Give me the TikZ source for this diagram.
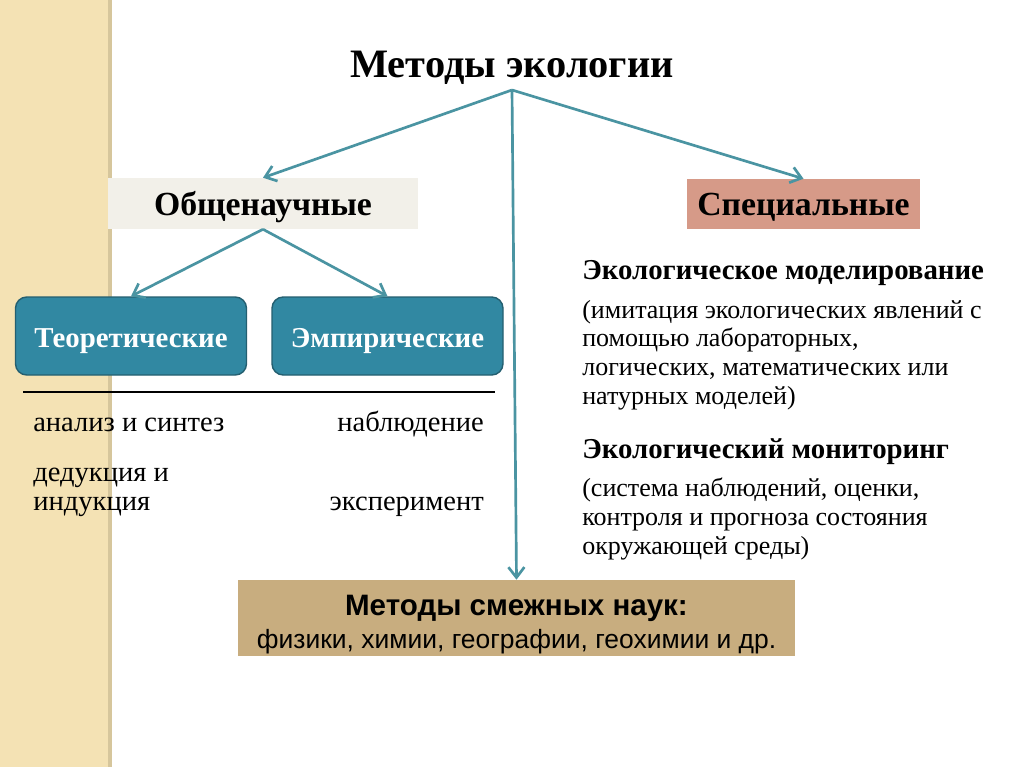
\documentclass[tikz,border=0pt]{standalone}
\usepackage{fontspec}
\setmainfont{Liberation Serif}
\setsansfont{Liberation Sans}
\usepackage{xcolor}
\usetikzlibrary{arrows.meta}
\definecolor{wheat}{HTML}{F4E2B4}
\definecolor{wheatedge}{HTML}{D6C69C}
\definecolor{sea}{HTML}{3188A2}
\definecolor{seaedge}{HTML}{245F70}
\definecolor{teal}{HTML}{4A94A2}
\definecolor{salmon}{HTML}{D69A88}
\definecolor{paper}{HTML}{F2F0E9}
\definecolor{tan}{HTML}{C8AD7F}
\newcommand{\fs}[2]{\fontsize{#1}{#2}\selectfont}
\newcommand{\px}{0.025cm}

\begin{document}
\begin{tikzpicture}[x=0.025cm,y=-0.025cm,
  arr/.style={-{Straight Barb[length=2.6mm,width=4mm]},line width=1.9pt,teal},
  txt/.style={inner sep=0pt,align=left,font=\fs{20.3}{20}},
  para/.style={inner sep=0pt,align=left,font=\fs{18.5}{20.3}},
  head/.style={inner sep=0pt,font=\fs{20.5}{21}\bfseries},
  flatbox/.style={inner sep=0pt,text depth=0pt,font=\fs{24}{26}\bfseries},
  roundbox/.style={fill=sea,draw=seaedge,line width=1pt,rounded corners=8pt,inner sep=0pt,text depth=0pt,
    minimum width=231*\px,minimum height=78*\px,text=white,font=\fs{20.5}{22}\bfseries}]
\useasboundingbox (0,0) rectangle (1024,767);
\fill[white] (0,0) rectangle (1024,767);
\fill[wheat] (0,0) rectangle (108,767); \fill[wheatedge] (108,0) rectangle (112,767);
\node[inner sep=0pt,anchor=base,font=\fs{28.7}{30}\bfseries] (title) at (512,78) {Методы экологии};
\coordinate (root) at (512,90);
\node[flatbox,fill=paper,minimum width=310*\px,minimum height=51*\px] (gen) at (263,203.5) {Общенаучные};
\node[flatbox,fill=salmon,minimum width=233*\px,minimum height=50*\px] (spec) at (803.5,204) {Специальные};
\node[roundbox] (theor) at (131,336) {\rule{0pt}{17pt}Теоретические};
\node[roundbox] (empir) at (387.5,336) {\rule{0pt}{17pt}Эмпирические};
\node[fill=tan,inner sep=0pt,minimum width=557*\px,minimum height=76*\px,align=center,font=\sffamily] (adj) at (516.5,618)
  {\fs{21}{24}\bfseries\rule{0pt}{24pt}Методы смежных наук:\\[4pt] \fs{18.8}{22}\mdseries физики, химии, географии, геохимии и др.};
\draw[arr] (root) -- (gen.north);
\draw[arr] (root) -- (spec.north);
\draw[arr] (root) -- (adj.north);
\draw[arr] (gen.south) -- (theor.north);
\draw[arr] (gen.south) -- (empir.north);
% left column
\coordinate (rl) at (23,392); \coordinate (rr) at (495,392);
\draw[line width=1.4pt] (rl) -- (rr);
\node[txt,anchor=base west] (anal) at (33,431) {анализ и синтез};
\node[txt,anchor=base west] (ded) at (33,510) {дедукция и\\индукция};
\node[txt,anchor=base east] (obs) at (484,431) {наблюдение};
\node[txt,anchor=base east] (expt) at (484,510) {эксперимент};
% right column
\node[head,anchor=base west] (mod) at (582,279) {Экологическое моделирование};
\node[para,anchor=base west] (modtxt) at (582,404) {(имитация экологических явлений с\\помощью лабораторных,\\логических, математических или\\натурных моделей)};
\node[head,anchor=base west] (mon) at (582,458) {Экологический мониторинг};
\node[para,anchor=base west] (montxt) at (582,554) {(система наблюдений, оценки,\\контроля и прогноза состояния\\окружающей среды)};
\end{tikzpicture}
\end{document}
